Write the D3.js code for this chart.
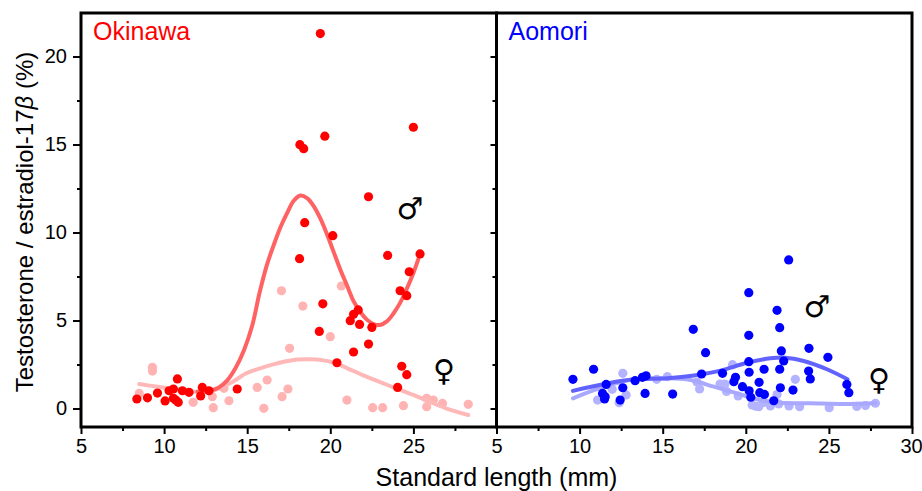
<!DOCTYPE html>
<html>
<head>
<meta charset="utf-8">
<script src="https://cdn.jsdelivr.net/npm/d3@7"></script>
<style>
  body { margin: 0; background: #fff; }
  text { font-family: "Liberation Sans", Arial, sans-serif; }
</style>
</head>
<body>
<div id="chart"></div>
<script>
// Okinawa, males (dark) and females (light)  [standard length mm, ratio %]
var okinawaMale = [
  [8.36,0.54],[9.0,0.61],[9.6,0.88],[10.06,0.43],[10.3,1.01],[10.56,1.11],[10.8,1.68],[10.56,0.58],
  [10.7,0.48],[10.85,0.35],[11.1,1.01],[11.5,0.92],[12.2,0.71],[12.3,1.2],[12.7,1.01],[14.4,1.11],
  [22.3,12.03],[18.46,10.56],[20.15,9.82],[18.15,8.51],[23.45,8.7],[25.4,8.78],[24.75,7.77],[24.2,6.69],
  [24.6,6.41],[19.55,5.95],[21.68,5.6],[21.4,5.35],[21.2,4.99],[21.76,4.78],[22.5,4.61],[19.34,4.38],
  [22.3,3.66],[21.4,3.21],[20.4,2.6],[24.3,2.4],[24.6,1.92],[24.05,1.2],
  [19.4,21.3],[25.0,15.98],[19.67,15.47],[18.17,14.99],[18.4,14.76]
];
var okinawaFemale = [
  [9.3,2.34],[9.3,2.13],[8.5,0.86],[11.75,0.35],[12.9,0.67],[12.96,0.05],[13.6,1.15],[13.9,0.44],
  [15.6,1.2],[16.2,1.62],[16.0,0.01],[17.1,0.67],[17.45,1.11],[17.55,3.42],[20.0,4.08],[21.0,0.48],
  [22.55,0.05],[23.15,0.05],[24.4,0.16],[25.8,0.1],[25.8,0.58],[26.2,0.48],[26.75,0.29],[28.3,0.24],
  [17.06,6.69],[18.35,5.82],[20.66,6.96]
];
var okinawaMaleFit = [
  [12.0,0.95],[12.7,1.0],[13.3,1.2],[13.8,1.6],[14.3,2.3],[14.8,3.3],[15.3,4.7],[15.75,6.6],[16.2,8.2],
  [16.6,9.3],[17.0,10.3],[17.4,11.1],[17.8,11.8],[18.2,12.1],[18.6,11.95],[19.0,11.5],[19.4,10.8],
  [19.8,9.9],[20.2,8.9],[20.6,7.9],[21.0,7.0],[21.4,6.1],[21.8,5.5],[22.2,5.05],[22.6,4.8],[23.0,4.75],
  [23.4,4.95],[23.8,5.4],[24.2,6.0],[24.6,6.8],[25.0,7.7],[25.3,8.5]
];
var okinawaFemaleFit = [
  [8.5,1.39],[9.5,1.25],[11.0,1.05],[12.0,0.95],[12.75,0.96],[14.0,1.45],[14.95,2.0],[16.0,2.35],
  [16.95,2.6],[18.0,2.78],[18.75,2.8],[19.5,2.75],[20.15,2.62],[21.0,2.3],[21.95,1.9],[23.0,1.5],
  [23.95,1.15],[25.0,0.77],[25.95,0.39],[27.0,0.0],[28.3,-0.37]
];

// Aomori
var aomoriMale = [
  [9.6,1.66],[10.84,2.23],[11.6,1.37],[11.38,0.86],[11.54,0.67],[11.5,0.54],[12.6,1.18],[12.44,0.48],
  [13.34,1.58],[13.78,1.77],[14.0,1.86],[13.94,0.86],[15.6,0.82],[16.84,4.5],[17.58,3.17],[17.34,1.96],
  [18.6,2.0],[19.28,1.52],[19.38,1.77],[19.8,1.24],[20.18,6.58],[20.18,4.16],[20.18,2.66],[20.2,2.06],
  [20.2,1.01],[20.3,0.64],[20.8,1.49],[20.84,0.9],[21.12,0.8],[21.1,2.23],[21.68,0.44],[21.88,5.58],
  [22.04,4.59],[22.14,3.27],[22.28,2.7],[22.04,2.23],[22.08,1.18],[22.58,8.44],[22.84,1.05],[23.8,3.42],
  [23.78,2.13],[23.88,1.68],[24.94,2.91],[26.08,1.37],[26.2,0.9]
];
var aomoriFemale = [
  [11.08,0.48],[11.96,1.09],[12.6,2.0],[12.8,0.77],[12.38,0.33],[14.64,1.66],[15.28,1.81],[17.06,1.5],
  [17.22,1.11],[18.45,1.39],[18.74,1.39],[18.84,0.97],[19.2,2.49],[19.54,0.71],[20.38,0.2],[20.6,0.13],
  [20.78,0.1],[21.04,0.33],[21.48,0.15],[21.88,0.79],[21.98,0.26],[22.6,0.15],[22.98,1.66],[23.24,0.1],
  [25.02,0.05],[26.68,0.12],[27.2,0.17],[27.8,0.3]
];
var aomoriMaleFit = [
  [9.6,1.0],[11.48,1.39],[13.28,1.66],[15.28,1.72],[16.88,1.87],[18.48,2.15],[20.08,2.6],[21.48,2.85],
  [22.38,2.89],[23.48,2.7],[24.88,2.23],[26.12,1.66]
];
var aomoriFemaleFit = [
  [9.6,0.58],[11.48,1.24],[13.28,1.66],[15.28,1.72],[16.68,1.62],[18.08,1.24],[19.48,0.86],[20.88,0.48],
  [22.08,0.33],[23.88,0.3],[25.88,0.26],[27.8,0.3]
];

var yMajor = [0, 5, 10, 15, 20];
var yMinor = [2.5, 7.5, 12.5, 17.5];
var xMajor = [5, 10, 15, 20, 25, 30];
var xMinor = [7.5, 12.5, 17.5, 22.5, 27.5];

(function() {
  var width = 922, height = 491;
  var plotTop = 13, plotBottom = 427, plotLeft = 81, plotMid = 496.5, plotRight = 912;

  var svg = d3.select("#chart").append("svg")
    .attr("width", width)
    .attr("height", height);

  var y = d3.scaleLinear().domain([-1.05, 22.47]).range([plotBottom, plotTop]);

  function drawPanel(x0, x1, name, males, females, maleFit, femaleFit, c, first) {
    var x = d3.scaleLinear().domain([5, 30]).range([x0, x1]);
    var g = svg.append("g");
    var line = d3.line()
      .x(function(d) { return x(d[0]); })
      .y(function(d) { return y(d[1]); })
      .curve(d3.curveCatmullRom);

    // female dots, then the fits, then male dots on top
    g.selectAll(".fdot").data(females).enter().append("circle")
      .attr("cx", function(d) { return x(d[0]); })
      .attr("cy", function(d) { return y(d[1]); })
      .attr("r", 4.6)
      .attr("fill", c.lightDot);

    g.append("path").datum(femaleFit)
      .attr("d", line).attr("fill", "none")
      .attr("stroke", c.lightLine).attr("stroke-width", 4).attr("stroke-linecap", "round");

    g.append("path").datum(maleFit)
      .attr("d", line).attr("fill", "none")
      .attr("stroke", c.darkLine).attr("stroke-width", 4).attr("stroke-linecap", "round");

    g.selectAll(".mdot").data(males).enter().append("circle")
      .attr("cx", function(d) { return x(d[0]); })
      .attr("cy", function(d) { return y(d[1]); })
      .attr("r", 4.6)
      .attr("fill", c.dark);

    // x axis
    var xa = svg.append("g").attr("transform", "translate(0," + plotBottom + ")");
    xa.call(d3.axisBottom(x).tickValues(first ? xMajor.slice(0, 5) : xMajor)
      .tickSize(7).tickPadding(5).tickFormat(d3.format("d")));
    xa.append("g").call(d3.axisBottom(x).tickValues(xMinor).tickSize(4).tickFormat(""));
    xa.selectAll(".domain").remove();
    xa.selectAll("line").attr("stroke-width", 2);
    xa.selectAll("text").style("font-size", "20px").attr("fill", "#000")
      .style("font-family", "'Liberation Sans', Arial, sans-serif")
      .attr("dx", function(d) { return d === 30 ? -1 : 0; });

    // y ticks on the left edge of each panel
    var ya = svg.append("g").attr("transform", "translate(" + x0 + ",0)");
    ya.call(d3.axisLeft(y).tickValues(yMajor).tickSize(first ? 8 : 6).tickPadding(6)
      .tickFormat(first ? d3.format("d") : ""));
    ya.append("g").call(d3.axisLeft(y).tickValues(yMinor).tickSize(4).tickFormat(""));
    ya.selectAll(".domain").remove();
    ya.selectAll("line").attr("stroke-width", 2);
    ya.selectAll("text").style("font-size", "20px").attr("fill", "#000")
      .style("font-family", "'Liberation Sans', Arial, sans-serif");

    // frame
    svg.append("rect")
      .attr("x", x0).attr("y", plotTop)
      .attr("width", x1 - x0).attr("height", plotBottom - plotTop)
      .attr("fill", "none").attr("stroke", "#000").attr("stroke-width", 3);

    svg.append("text")
      .attr("x", x0 + 12).attr("y", 40)
      .attr("fill", c.dark)
      .style("font-size", "25px")
      .text(name);
  }

  var okiColors = { dark: "#ff0000", lightDot: "#ffb3b3", darkLine: "#ff6262", lightLine: "#ffb8b8" };
  var aomColors = { dark: "#0000ff", lightDot: "#b3b3ff", darkLine: "#6262ff", lightLine: "#a8a8ff" };

  drawPanel(plotLeft, plotMid, "Okinawa", okinawaMale, okinawaFemale, okinawaMaleFit, okinawaFemaleFit, okiColors, true);
  drawPanel(plotMid, plotRight, "Aomori", aomoriMale, aomoriFemale, aomoriMaleFit, aomoriFemaleFit, aomColors, false);

  // sex symbols
  var symbols = [
    { s: "\u2642", x: 410, y: 208 }, { s: "\u2640", x: 444, y: 370 },
    { s: "\u2642", x: 817, y: 306 }, { s: "\u2640", x: 879, y: 379 }
  ];
  svg.selectAll(".sym").data(symbols).enter().append("text")
    .attr("x", function(d) { return d.x; })
    .attr("y", function(d) { return d.y; })
    .attr("text-anchor", "middle")
    .attr("dominant-baseline", "central")
    .style("font-family", "'DejaVu Sans', sans-serif")
    .style("font-size", "30px")
    .text(function(d) { return d.s; });

  // axis titles
  svg.append("text")
    .attr("x", plotMid).attr("y", 486)
    .attr("text-anchor", "middle")
    .style("font-size", "25px")
    .text("Standard length (mm)");

  var yt = svg.append("text")
    .attr("transform", "translate(33,222) rotate(-90)")
    .attr("text-anchor", "middle")
    .style("font-size", "24px");
  yt.append("tspan").text("Testosterone / estradiol-17");
  yt.append("tspan").style("font-style", "italic").text("\u03b2");
  yt.append("tspan").text(" (%)");
})();
</script>
</body>
</html>
